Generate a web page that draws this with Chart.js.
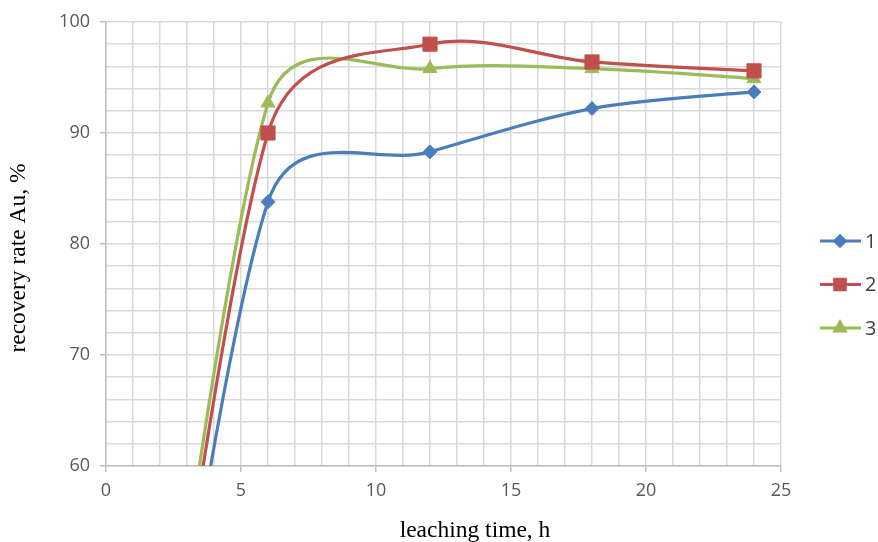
<!DOCTYPE html>
<html>
<head>
<meta charset="utf-8">
<script src="https://cdn.jsdelivr.net/npm/chart.js@4/dist/chart.umd.min.js"></script>
<style>
  html, body { margin: 0; padding: 0; background: #fff; }
  #wrap { width: 878px; height: 542px; position: relative; }
</style>
</head>
<body>
<div id="wrap"><canvas id="leachChart"></canvas></div>
<script>
// leaching time (h) and Au recovery (%) for the three runs
const hours = [0, 6, 12, 18, 24];
const rate1 = [0, 83.8, 88.3, 92.2, 93.7];
const rate2 = [0, 90.0, 98.0, 96.4, 95.6];
const rate3 = [0, 92.7, 95.8, 95.8, 94.9];
const seriesNames = ["1", "2", "3"];

const xTitle = "leaching time, h";
const yTitle = "recovery rate Au, %";

const colors = ["#4a7ebb", "#c0504d", "#9bbb59"];
const markers = ["rectRot", "rect", "triangle"];
const markerSize = [7, 10, 8];

function toPoints(vals) {
    return hours.map((h, i) => ({ x: h, y: vals[i] }));
}

// spreadsheet-style smoothing: tangent along (next - prev),
// handle length d02/6 but never more than half of the adjacent segment
const smoothing = {
    id: "smoothing",
    beforeDatasetDraw(chart, args) {
        let meta = args.meta;
        let pts = meta.data;
        let n = pts.length;
        for (let i = 0; i < n; i++) {
            let p = pts[i];
            let prev = pts[Math.max(i - 1, 0)];
            let next = pts[Math.min(i + 1, n - 1)];
            let dx = next.x - prev.x, dy = next.y - prev.y;
            let d02 = Math.hypot(dx, dy) || 1;
            let d01 = Math.hypot(p.x - prev.x, p.y - prev.y);
            let d12 = Math.hypot(next.x - p.x, next.y - p.y);
            let inLen = i === 0 ? 0 : Math.min(d02 / 6, d01 / 2);
            let outLen = i === n - 1 ? 0 : Math.min(d02 / 6, d12 / 2);
            p.cp1x = p.x - dx / d02 * inLen;
            p.cp1y = p.y - dy / d02 * inLen;
            p.cp2x = p.x + dx / d02 * outLen;
            p.cp2y = p.y + dy / d02 * outLen;
        }
        meta.dataset._pointsUpdated = true;
        meta.dataset._path = undefined;
    }
};

// draws the right-hand legend (line + marker) and the serif axis titles
const extras = {
    id: "extras",
    afterDraw(chart) {
        let ctx = chart.ctx;
        ctx.save();
        chart.data.datasets.forEach((ds, i) => {
            let y = 241 + i * 43.5;
            ctx.strokeStyle = ds.borderColor;
            ctx.lineWidth = 3;
            ctx.beginPath();
            ctx.moveTo(820, y);
            ctx.lineTo(861, y);
            ctx.stroke();
            ctx.fillStyle = ds.borderColor;
            Chart.helpers.drawPoint(ctx, {
                pointStyle: ds.pointStyle,
                radius: ds.pointRadius * 0.75,
                rotation: 0,
                borderWidth: 1
            }, 840, y);
            ctx.fillStyle = "#404040";
            ctx.font = "20px 'Open Sans'";
            ctx.textAlign = "left";
            ctx.textBaseline = "middle";
            ctx.fillText(ds.label, 865, y + 1);
        });

        ctx.fillStyle = "#000";
        ctx.font = "23.5px 'Liberation Serif'";
        ctx.textAlign = "center";
        ctx.textBaseline = "alphabetic";
        ctx.fillText(xTitle, 475, 537);

        ctx.translate(25, 258);
        ctx.rotate(-Math.PI / 2);
        ctx.fillText(yTitle, 0, 0);
        ctx.restore();
    }
};

const ctx = document.getElementById("leachChart").getContext("2d");

new Chart(ctx, {
    type: "line",
    data: {
        datasets: [rate1, rate2, rate3].map((vals, i) => ({
            label: seriesNames[i],
            data: toPoints(vals),
            borderColor: colors[i],
            backgroundColor: colors[i],
            borderWidth: 3.2,
            pointStyle: markers[i],
            pointRadius: markerSize[i],
            pointHoverRadius: markerSize[i],
            pointBorderWidth: 1,
            tension: 0.4,
            capBezierPoints: false,
            fill: false
        }))
    },
    options: {
        responsive: true,
        maintainAspectRatio: false,
        animation: false,
        layout: { padding: { left: 46, right: 97, top: 22, bottom: 36 } },
        plugins: {
            legend: { display: false },
            tooltip: { enabled: false }
        },
        scales: {
            x: {
                type: "linear",
                min: 0,
                max: 25,
                afterFit: s => { s.height = 40; },
                grid: {
                    color: "#d9d9d9",
                    lineWidth: 1.5,
                    tickLength: 6,
                    tickColor: c => (c.tick && c.tick.value % 5 === 0) ? "#bfbfbf" : "rgba(0,0,0,0)"
                },
                border: { color: "#bfbfbf", width: 1.5 },
                ticks: {
                    stepSize: 1,
                    autoSkip: false,
                    maxRotation: 0,
                    padding: 8,
                    color: "#595959",
                    font: { family: "'Open Sans'", size: 18 },
                    callback: v => v % 5 === 0 ? v : ""
                }
            },
            y: {
                min: 60,
                max: 100,
                afterFit: s => { s.width = 60; },
                grid: {
                    color: "#d9d9d9",
                    lineWidth: 1.5,
                    tickLength: 6,
                    tickColor: c => (c.tick && c.tick.value % 10 === 0) ? "#bfbfbf" : "rgba(0,0,0,0)"
                },
                border: { color: "#bfbfbf", width: 1.5 },
                ticks: {
                    stepSize: 2,
                    autoSkip: false,
                    padding: 10,
                    color: "#595959",
                    font: { family: "'Open Sans'", size: 18 },
                    callback: v => v % 10 === 0 ? v : ""
                }
            }
        }
    },
    plugins: [smoothing, extras]
});
</script>
</body>
</html>
